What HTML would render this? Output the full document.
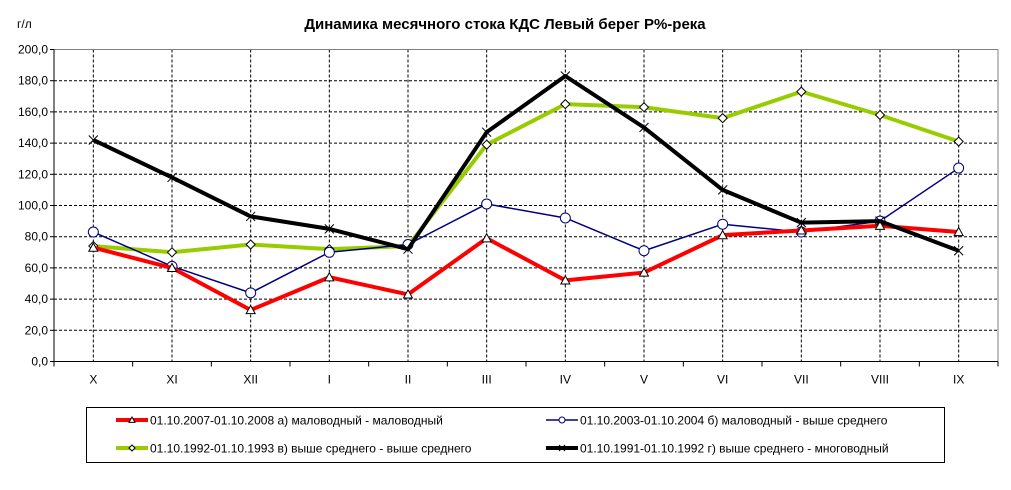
<!DOCTYPE html>
<html><head><meta charset="utf-8"><style>
html,body{margin:0;padding:0;background:#fff}
svg text{font-family:"Liberation Sans",Arial,sans-serif}
</style></head><body>
<svg id="s" width="1011" height="485" xmlns="http://www.w3.org/2000/svg"></svg>
<script>
const L=54,R=998,T=49.5,B=361.5;
const cw=(R-L)/12;
const X=i=>L+cw*(i+0.5);
const Y=v=>B-(v/200)*(B-T);
let h='';
h+='<text x="505" y="29" font-size="15" font-weight="bold" text-anchor="middle">Динамика месячного стока КДС Левый берег Р%-река</text>';
h+='<text x="17" y="28" font-size="12">г/л</text>';
for(let k=1;k<10;k++){const y=Y(k*20);h+=`<line x1="${L}" y1="${y}" x2="${R}" y2="${y}" stroke="#000" stroke-dasharray="3,2" stroke-width="1"/>`;}
for(let i=0;i<12;i++){h+=`<line x1="${X(i)}" y1="${T}" x2="${X(i)}" y2="${B}" stroke="#000" stroke-dasharray="3,2" stroke-width="1"/>`;}
h+=`<line x1="${L}" y1="${T}" x2="${R}" y2="${T}" stroke="#808080"/><line x1="${R}" y1="${T}" x2="${R}" y2="${B}" stroke="#808080"/>`;
h+=`<line x1="${L}" y1="${T}" x2="${L}" y2="${B}" stroke="#000"/><line x1="${L}" y1="${B}" x2="${R}" y2="${B}" stroke="#000"/>`;
for(let k=0;k<=10;k++){const y=Y(k*20);h+=`<line x1="${L-4}" y1="${y}" x2="${L}" y2="${y}" stroke="#000"/><text x="${L-6}" y="${y+4}" font-size="12" text-anchor="end">${(k*20).toFixed(1).replace('.',',')}</text>`;}
const cats=['X','XI','XII','I','II','III','IV','V','VI','VII','VIII','IX'];
for(let i=0;i<=12;i++){const x=L+cw*i;h+=`<line x1="${x}" y1="${B}" x2="${x}" y2="${B+5}" stroke="#000"/>`;}
cats.forEach((c,i)=>h+=`<text x="${X(i)}" y="${B+22}" font-size="12" text-anchor="middle">${c}</text>`);
const S=[
 {c:'#ff0000',w:4,m:'tri',d:[73,60,33,54,43,79,52,57,81,84,87,83]},
 {c:'#000080',w:1.5,m:'circ',d:[83,61,44,70,75,101,92,71,88,83,90,124]},
 {c:'#99cc00',w:4,m:'dia',d:[74,70,75,72,74,139,165,163,156,173,158,141]},
 {c:'#000000',w:4,m:'x',d:[142,118,93,85,72,147,183,150,110,89,90,71]}];
function mk(m,x,y,sz){
 if(m=='tri')return `<polygon points="${x},${y-sz} ${x-sz},${y+sz*0.8} ${x+sz},${y+sz*0.8}" fill="#fff" stroke="#000" stroke-width="1"/>`;
 if(m=='circ')return `<circle cx="${x}" cy="${y}" r="${sz}" fill="#fff" stroke="#000080" stroke-width="1"/>`;
 if(m=='dia')return `<polygon points="${x},${y-sz} ${x+sz},${y} ${x},${y+sz} ${x-sz},${y}" fill="#fff" stroke="#000" stroke-width="1"/>`;
 return `<path d="M${x-sz} ${y-sz}L${x+sz} ${y+sz}M${x-sz} ${y+sz}L${x+sz} ${y-sz}" stroke="#000" stroke-width="1"/>`;}
[2,1,0,3].forEach(j=>{const s=S[j];
 h+=`<polyline fill="none" stroke="${s.c}" stroke-width="${s.w}" stroke-linejoin="round" points="${s.d.map((v,i)=>X(i)+','+Y(v)).join(' ')}"/>`;
 s.d.forEach((v,i)=>h+=mk(s.m,X(i),Y(v),s.m=='circ'?5:4.5));});
h+='<rect x="86.5" y="407.5" width="858" height="55" fill="#fff" stroke="#000"/>';
const lg=[[0,116,420,'01.10.2007-01.10.2008  а) маловодный  - маловодный'],[1,546,420,'01.10.2003-01.10.2004  б) маловодный  - выше  среднего'],[2,116,448,'01.10.1992-01.10.1993  в) выше  среднего  - выше  среднего'],[3,546,448,'01.10.1991-01.10.1992  г) выше  среднего  - многоводный']];
lg.forEach(([j,x,y,t])=>{const s=S[j];h+=`<line x1="${x}" y1="${y}" x2="${x+32}" y2="${y}" stroke="${s.c}" stroke-width="${s.w}"/>`+mk(s.m,x+16,y,3)+`<text x="${x+34}" y="${y+4.5}" font-size="12">${t}</text>`;});
document.getElementById('s').innerHTML=h;
</script>
</body></html>
